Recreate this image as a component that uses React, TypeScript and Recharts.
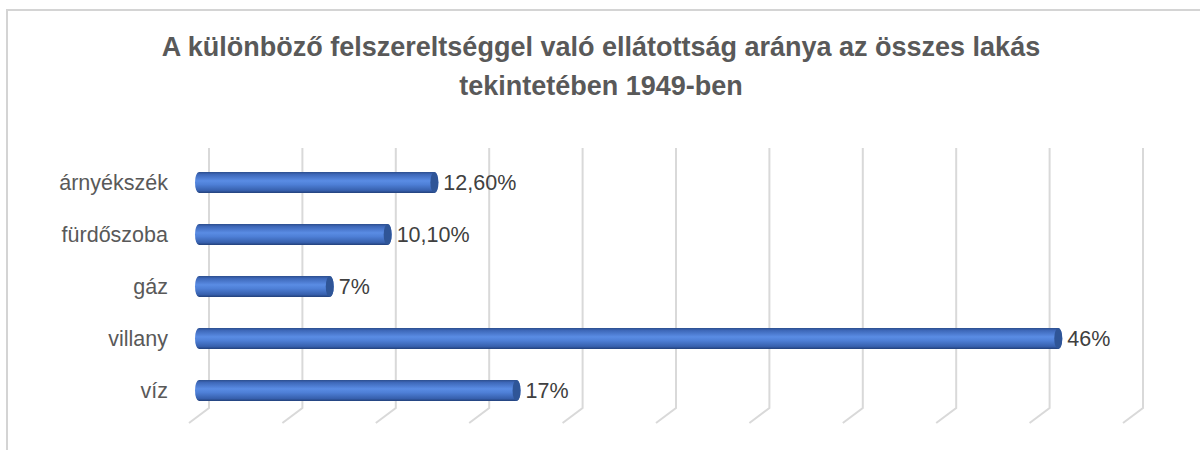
import { BarChart, Bar, XAxis, YAxis, CartesianGrid, LabelList } from "recharts";

const categories = ["árnyékszék", "fürdőszoba", "gáz", "villany", "víz"];
const shares = [12.6, 10.1, 7, 46, 17];
const shareLabels = ["12,60%", "10,10%", "7%", "46%", "17%"];
const xTicks = [0, 5, 10, 15, 20, 25, 30, 35, 40, 45, 50];

const data = categories.map((name, i) => ({ name, value: shares[i], label: shareLabels[i] }));

const FONT = '"Liberation Sans", Arial, sans-serif';

// cylinder-ish bar like the Excel 3D bar
const CylinderBar = (props: any) => {
  const { x, y, width, height } = props;
  if (!width || width <= 0) return null;
  const rx = 4;
  const ry = height / 2;
  const d = `M${x},${y} L${x + width},${y} A${rx},${ry} 0 0 1 ${x + width},${y + height} L${x},${y + height} A${rx},${ry} 0 0 1 ${x},${y} Z`;
  return (
    <g>
      <defs>
        <linearGradient id="cylGrad" x1="0" y1="0" x2="0" y2="1">
          <stop offset="0" stopColor="#2c4e8e" />
          <stop offset="0.12" stopColor="#3e68b9" />
          <stop offset="0.42" stopColor="#5a8ce4" />
          <stop offset="0.6" stopColor="#4e7fd6" />
          <stop offset="0.88" stopColor="#3760ad" />
          <stop offset="1" stopColor="#22407a" />
        </linearGradient>
      </defs>
      <path d={d} fill="url(#cylGrad)" />
      <ellipse cx={x + width} cy={y + ry} rx={rx} ry={ry} fill="#2f5597" />
    </g>
  );
};

// gridlines on the back wall with the floor slant at the bottom
const GridLine = (props: any) => {
  const { x1, y1, y2 } = props;
  return (
    <path
      key={props.key ?? `g-${x1}`}
      d={`M${x1 + 10},${y1 - 8} L${x1 + 10},${y2 - 8} L${x1 - 10},${y2 + 7}`}
      stroke="#d9d9d9"
      strokeWidth={2}
      fill="none"
    />
  );
};

const ValueLabel = (props: any) => {
  const { x, y, width, height, value } = props;
  return (
    <text
      x={x + width + 9}
      y={y + height / 2}
      dominantBaseline="central"
      fontFamily={FONT}
      fontSize={21.5}
      fill="#404040"
    >
      {value}
    </text>
  );
};

export default function App() {
  return (
    <div style={{ position: "absolute", left: 0, top: 0, width: 1200, height: 450, background: "#fff", overflow: "hidden" }}>
      {/* chart frame: top and left edges only are in view */}
      <div style={{ position: "absolute", left: 6, top: 9, width: 1194, height: 2, background: "#d4d4d4" }} />
      <div style={{ position: "absolute", left: 6, top: 9, width: 2, height: 441, background: "#d4d4d4" }} />
      <div
        style={{
          position: "absolute",
          left: 0,
          top: 28,
          width: 1202,
          textAlign: "center",
          fontFamily: FONT,
          fontWeight: "bold",
          fontSize: 27,
          lineHeight: "39px",
          color: "#595959",
        }}
      >
        <div>A különböző felszereltséggel való ellátottság aránya az összes lakás</div>
        <div>tekintetében 1949-ben</div>
      </div>
      <div style={{ position: "absolute", left: 0, top: 0 }}>
        <BarChart
          width={1200}
          height={450}
          data={data}
          layout="vertical"
          margin={{ top: 156, right: 67, bottom: 34, left: 0 }}
          barSize={21}
        >
          <CartesianGrid horizontal={false} vertical={GridLine} />
          <XAxis type="number" domain={[0, 50]} ticks={xTicks} hide />
          <YAxis
            type="category"
            dataKey="name"
            width={199}
            axisLine={false}
            tickLine={false}
            tickSize={0}
            tickMargin={31}
            tick={{ fontFamily: FONT, fontSize: 21.5, fill: "#595959" }}
          />
          <Bar dataKey="value" shape={CylinderBar} isAnimationActive={false}>
            <LabelList dataKey="label" content={ValueLabel} />
          </Bar>
        </BarChart>
      </div>
    </div>
  );
}
